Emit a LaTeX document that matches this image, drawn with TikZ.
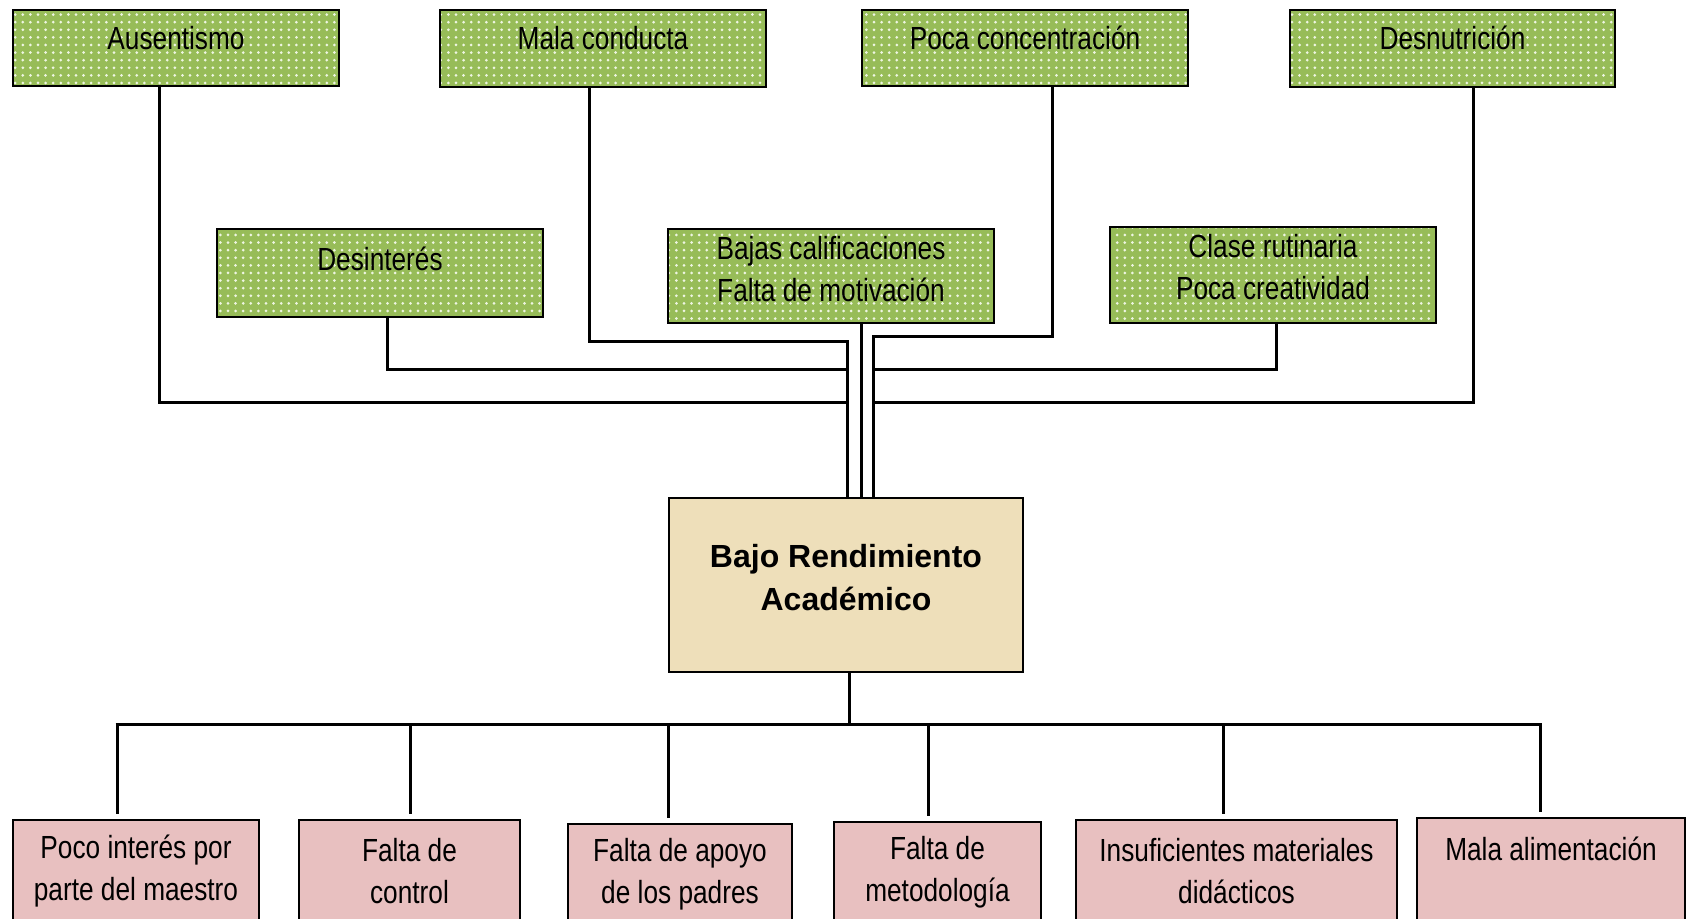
\documentclass[tikz,border=0pt]{standalone}
\usepackage{fontspec}
\setmainfont{Liberation Sans}[FakeStretch=0.82]
\newfontfamily\widefam{Liberation Sans}
\usetikzlibrary{patterns.meta}
\definecolor{gfill}{RGB}{151,188,88}
\definecolor{gdot}{RGB}{238,245,226}
\definecolor{bfill}{RGB}{238,223,186}
\definecolor{pfill}{RGB}{232,192,192}
\tikzset{
  gbox/.style={draw=black, line width=1pt, preaction={fill=gfill},
    pattern={Dots[distance=3.8pt,radius=0.75pt]}, pattern color=gdot, inner sep=0pt},
  cbox/.style={draw=black, line width=1pt, fill=bfill, inner sep=0pt},
  pbox/.style={draw=black, line width=1pt, fill=pfill, inner sep=0pt},
  txt/.style={inner sep=0pt, align=center, font=\fontsize{16}{21}\selectfont},
  btxt/.style={inner sep=0pt, align=center, font=\widefam\bfseries\fontsize{16}{21.5}\selectfont},
  conn/.style={draw=black, line width=1.5pt, line join=miter},
}
\begin{document}
\begin{tikzpicture}[x=0.5pt,y=-0.5pt]
\useasboundingbox (0,0) rectangle (1687,919);
\fill[white] (0,0) rectangle (1687,919);
\clip (0,0) rectangle (1687,919);

% top row
\node[gbox, minimum width=163pt, minimum height=38pt] (aus) at (176,48) {};
\node[gbox, minimum width=163pt, minimum height=38.5pt] (mal) at (603,48.5) {};
\node[gbox, minimum width=163pt, minimum height=38pt] (poc) at (1025,48) {};
\node[gbox, minimum width=162.5pt, minimum height=38.5pt] (des) at (1452.5,48.5) {};
\node[txt] (aust) at (176,38) {Ausentismo};
\node[txt] (malt) at (603,38) {Mala conducta};
\node[txt] (poct) at (1025,38) {Poca concentración};
\node[txt] (dest) at (1452.5,38) {Desnutrición};

% second row
\node[gbox, minimum width=163pt, minimum height=44pt] (dsi) at (380,273) {};
\node[gbox, minimum width=163pt, minimum height=47pt] (baj) at (831,276) {};
\node[gbox, minimum width=163pt, minimum height=48pt] (cla) at (1273,275) {};
\node[txt] (dsit) at (380,259) {Desinterés};
\node[txt] (bajt) at (831,269.5) {Bajas calificaciones\\Falta de motivación};
\node[txt] (clat) at (1273,267) {Clase rutinaria\\Poca creatividad};

% centre
\node[cbox, minimum width=177pt, minimum height=87pt] (ctr) at (846,585) {};
\node[btxt] (ctrt) at (846,578) {Bajo Rendimiento\\Académico};

% bottom row
\node[pbox, minimum width=123pt, minimum height=80pt] (b1) at (136,900) {};
\node[pbox, minimum width=110.5pt, minimum height=80pt] (b2) at (409.5,900) {};
\node[pbox, minimum width=112pt, minimum height=80pt] (b3) at (680,904) {};
\node[pbox, minimum width=103.5pt, minimum height=80pt] (b4) at (937.5,902) {};
\node[pbox, minimum width=160.5pt, minimum height=80pt] (b5) at (1236.5,900) {};
\node[pbox, minimum width=134pt, minimum height=80pt] (b6) at (1551,898) {};
\node[txt] (b1t) at (136,871) {Poco interés por\\parte del maestro};
\node[txt] (b2t) at (409.5,871) {Falta de\\control};
\node[txt] (b3t) at (680,874) {Falta de apoyo\\de los padres};
\node[txt] (b4t) at (937.5,872) {Falta de\\metodología};
\node[txt] (b5t) at (1236.5,871) {Insuficientes materiales\\didácticos};
\node[txt] (b6t) at (1551,849) {Mala alimentación};

% junction coordinates (top)
\coordinate (xAus) at (159,0);
\coordinate (xDsi) at (387,0);
\coordinate (xMal) at (589,0);
\coordinate (xBaj) at (861,0);
\coordinate (xPoc) at (1052,0);
\coordinate (xCla) at (1276,0);
\coordinate (xDes) at (1473,0);
\coordinate (jL1) at (847,342);
\coordinate (jL2) at (847,370);
\coordinate (jL3) at (847,403);
\coordinate (jR1) at (873,337);
\coordinate (jR2) at (873,370);
\coordinate (jR3) at (873,403);

\draw[conn] (aus.south -| xAus) |- (jL3) -- (ctr.north -| jL3);
\draw[conn] (dsi.south -| xDsi) |- (jL2);
\draw[conn] (mal.south -| xMal) |- (jL1) -- (ctr.north -| jL1);
\draw[conn] (baj.south -| xBaj) -- (ctr.north -| xBaj);
\draw[conn] (poc.south -| xPoc) |- (jR1) -- (ctr.north -| jR1);
\draw[conn] (cla.south -| xCla) |- (jR2);
\draw[conn] (des.south -| xDes) |- (jR3) -- (ctr.north -| jR3);

% bottom connectors
\coordinate (bar) at (849,724);
\coordinate (barL) at (117,724);
\coordinate (barR) at (1540,724);
\coordinate (x1) at (117,0);
\coordinate (x2) at (410,0);
\coordinate (x3) at (668,0);
\coordinate (x4) at (928,0);
\coordinate (x5) at (1223,0);
\coordinate (x6) at (1540,0);
\draw[conn] (ctr.south -| bar) -- (bar);
\draw[conn] ([xshift=-0.75pt]barL) -- ([xshift=0.75pt]barR);
\foreach \i in {1,...,6}{
  \draw[conn, shorten >=2.5pt] (x\i |- bar) -- (b\i.north -| x\i);
}
\end{tikzpicture}
\end{document}
